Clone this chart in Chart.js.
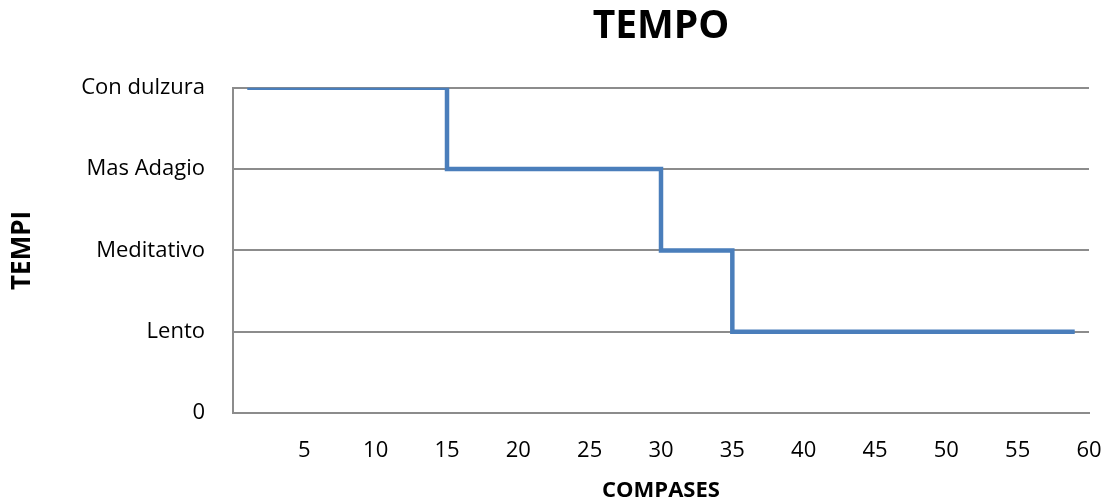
<!DOCTYPE html>
<html>
<head>
<meta charset="utf-8">
<script src="https://cdn.jsdelivr.net/npm/chart.js@4"></script>
<style>
  html, body { margin: 0; padding: 0; background: #fff; }
  #wrap { width: 1108px; height: 502px; }
</style>
</head>
<body>
<div id="wrap"><canvas id="myChart" width="1108" height="502"></canvas></div>
<script>
// compas where each tempo starts, and the tempo level (index into tempoLabels)
const compases = [1, 15, 30, 35, 59];
const tempoLevel = [4, 3, 2, 1, 1];
const tempoLabels = ["0", "Lento", "Meditativo", "Mas Adagio", "Con dulzura"];
const xTicks = [5, 10, 15, 20, 25, 30, 35, 40, 45, 50, 55, 60];

const points = compases.map((c, i) => ({ x: c, y: tempoLevel[i] }));

Chart.defaults.font.family = "'Open Sans', 'Liberation Sans', sans-serif";
Chart.defaults.color = "#000";

const ctx = document.getElementById("myChart");
new Chart(ctx, {
  type: "line",
  data: {
    datasets: [
      {
        label: "TEMPO",
        data: points,
        stepped: "before",
        borderColor: "#4a7ebb",
        borderWidth: 4.5,
        borderCapStyle: "butt",
        pointRadius: 0,
        fill: false,
      },
    ],
  },
  options: {
    responsive: false,
    animation: false,
    layout: { padding: { top: 0, right: 19, left: 0, bottom: 0 } },
    plugins: {
      legend: { display: false },
      tooltip: { enabled: false },
      title: {
        display: true,
        text: "TEMPO",
        fullSize: false,
        font: { size: 39, weight: "bold" },
        padding: { top: 3, bottom: 38 },
      },
    },
    scales: {
      x: {
        type: "linear",
        min: 0,
        max: 60,
        afterBuildTicks: (s) => { s.ticks = xTicks.map((v) => ({ value: v })); },
        afterFit: (s) => {
          s.height = 89;
          s.paddingLeft = 0;
          s.paddingRight = 0;
        },
        ticks: { font: { size: 22 }, padding: 25, maxRotation: 0 },
        grid: { display: false, drawTicks: false },
        border: { display: true, color: "#8c8c8c", width: 2 },
        title: {
          display: true,
          text: "COMPASES",
          font: { size: 22, weight: "bold" },
          padding: { top: 10, bottom: -2 },
        },
      },
      y: {
        min: 0,
        max: 4,
        afterBuildTicks: (s) => { s.ticks = tempoLabels.map((_, i) => ({ value: i })); },
        afterFit: (s) => { s.width = 233; },
        ticks: {
          font: { size: 22 },
          padding: 28,
          callback: (v) => tempoLabels[v],
        },
        grid: { color: "#8c8c8c", lineWidth: 2, drawTicks: false },
        border: { display: true, color: "#8c8c8c", width: 2 },
        title: {
          display: true,
          text: "TEMPI",
          font: { size: 26, weight: "bold" },
          padding: { top: 7, bottom: 0 },
        },
      },
    },
  },
});
</script>
</body>
</html>
